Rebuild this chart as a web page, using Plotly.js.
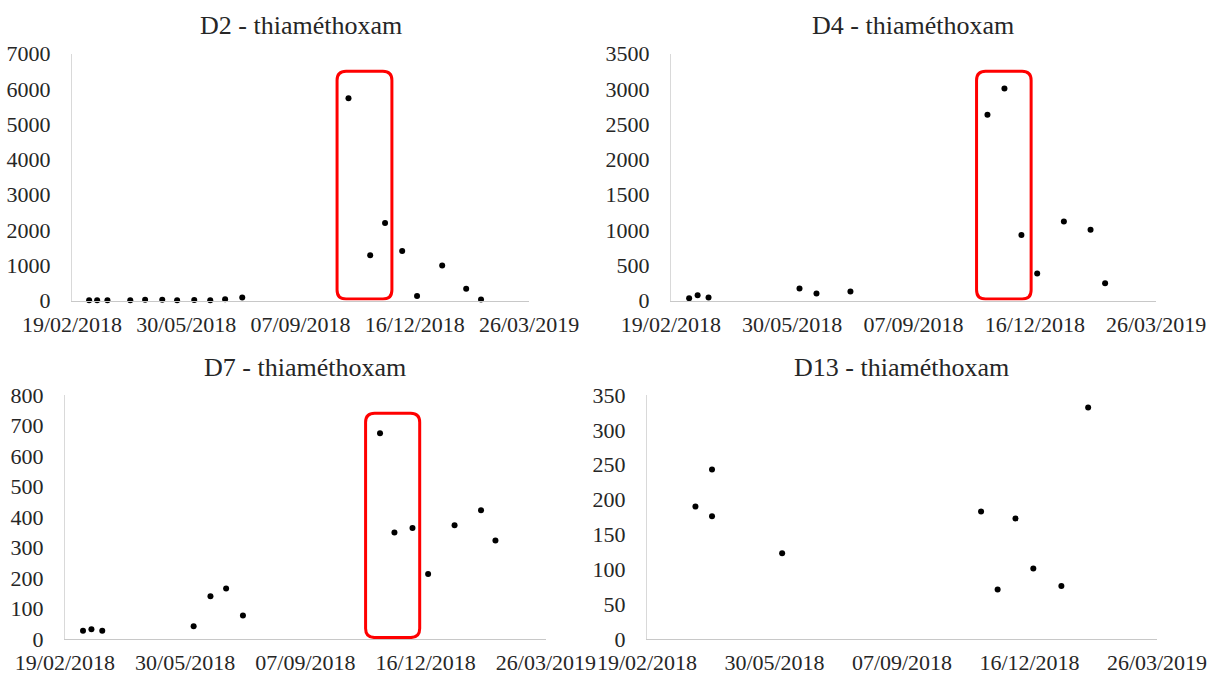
<!DOCTYPE html>
<html>
<head>
<meta charset="utf-8">
<script src="https://cdn.plot.ly/plotly-3.0.1.min.js"></script>
<style>
  html, body { margin: 0; padding: 0; background: #fff; }
  #chart { width: 1210px; height: 675px; }
</style>
</head>
<body>
<div id="chart"></div>
<script>
// ---------- data ----------
const originDate = "2018-02-19";
const tickDays = [0, 100, 200, 300, 400];
const tickLabels = ["19/02/2018", "30/05/2018", "07/09/2018", "16/12/2018", "26/03/2019"];

const titles = ["D2 - thiaméthoxam", "D4 - thiaméthoxam", "D7 - thiaméthoxam", "D13 - thiaméthoxam"];

const d2Dates = ["2018-03-06","2018-03-13","2018-03-22","2018-04-11","2018-04-24","2018-05-09","2018-05-22","2018-06-06","2018-06-20","2018-07-03","2018-07-18","2018-10-19","2018-11-07","2018-11-20","2018-12-05","2018-12-18","2019-01-09","2019-01-30","2019-02-12"];
const d2Values = [10, 10, 10, 5, 20, 20, 8, 15, 5, 38, 85, 5730, 1280, 2195, 1400, 130, 995, 330, 28];

const d4Dates = ["2018-03-06","2018-03-13","2018-03-22","2018-06-05","2018-06-19","2018-07-17","2018-11-07","2018-11-21","2018-12-05","2018-12-18","2019-01-09","2019-01-31","2019-02-12"];
const d4Values = [33, 76, 43, 170, 99, 128, 2634, 3003, 927, 383, 1121, 1003, 246];

const d7Dates = ["2018-03-06","2018-03-13","2018-03-22","2018-06-06","2018-06-20","2018-07-03","2018-07-17","2018-11-08","2018-11-20","2018-12-05","2018-12-18","2019-01-09","2019-01-31","2019-02-12"];
const d7Values = [27, 32, 27, 42, 140, 166, 77, 675, 349, 364, 213, 373, 422, 323];

const d13Dates = ["2018-03-29","2018-04-11","2018-04-11","2018-06-05","2018-11-08","2018-11-21","2018-12-05","2018-12-19","2019-01-10","2019-01-31"];
const d13Values = [190, 243, 176, 123, 183, 71, 173, 101, 76, 332];

const yMax = [7000, 3500, 800, 350];
const yStep = [1000, 500, 100, 50];

// highlighted windows (red boxes): [start date, end date, top value] per panel
const boxD2 = ["2018-10-09", "2018-11-26", 6500];
const boxD4 = ["2018-10-29", "2018-12-13", 3250];
const boxD7 = ["2018-10-27", "2018-12-11", 740];

// ---------- helpers ----------
function toDays(s) {
  const p = s.split("-").map(Number);
  const o = originDate.split("-").map(Number);
  return (Date.UTC(p[0], p[1] - 1, p[2]) - Date.UTC(o[0], o[1] - 1, o[2])) / 86400000;
}

const font = "Liberation Serif, Times New Roman, serif";
const tickFont = { family: font, size: 22, color: "#262626" };

const series = [
  [d2Dates, d2Values], [d4Dates, d4Values], [d7Dates, d7Values], [d13Dates, d13Values]
];

// subplot frames (paper fractions)
const xDomains = [[0.0595, 0.4372], [0.5545, 0.9554], [0.0537, 0.4512], [0.5347, 0.9562]];
const yDomains = [[0.5548, 0.9207], [0.5548, 0.9207], [0.0533, 0.4148], [0.0533, 0.4148]];
const titleY = [0.962, 0.962, 0.455, 0.455];

const data = [];
const layout = {
  width: 1210, height: 675,
  margin: { l: 0, r: 0, t: 0, b: 0 },
  paper_bgcolor: "#ffffff",
  plot_bgcolor: "#ffffff",
  showlegend: false,
  annotations: [],
  shapes: []
};

series.forEach(([dates, vals], i) => {
  const k = i === 0 ? "" : String(i + 1);
  data.push({
    type: "scatter", mode: "markers",
    x: dates.map(toDays), y: vals,
    xaxis: "x" + k, yaxis: "y" + k,
    marker: { color: "#000000", size: 6 },
    cliponaxis: false,
    hoverinfo: "skip"
  });
  layout["xaxis" + k] = {
    domain: xDomains[i], anchor: "y" + k,
    range: [0, 400], tickmode: "array", tickvals: tickDays, ticktext: tickLabels,
    showgrid: false, zeroline: false, showline: true, linecolor: "#c8c8c8", linewidth: 1,
    ticks: "", tickfont: tickFont, ticklabelstandoff: 4, fixedrange: true
  };
  layout["yaxis" + k] = {
    domain: yDomains[i], anchor: "x" + k,
    range: [0, yMax[i]], tick0: 0, dtick: yStep[i],
    showgrid: false, zeroline: false, showline: true, linecolor: "#d9d9d9", linewidth: 1,
    ticks: "", tickfont: tickFont, ticklabelstandoff: 16, fixedrange: true
  };
  layout.annotations.push({
    xref: "paper", yref: "paper",
    x: (xDomains[i][0] + xDomains[i][1]) / 2, y: titleY[i],
    xanchor: "center", yanchor: "middle", showarrow: false,
    text: titles[i], font: { family: font, size: 26, color: "#262626" }
  });
});

function roundedBox(k, box, plotPxW, plotPxH, ymaxV, r) {
  const x0 = toDays(box[0]), x1 = toDays(box[1]);
  const rx = r * 400 / plotPxW, ry = r * ymaxV / plotPxH;
  const y0 = 1.5 * ymaxV / plotPxH, y1 = box[2];
  const path = `M${x0 + rx},${y0} L${x1 - rx},${y0} Q${x1},${y0} ${x1},${y0 + ry} ` +
               `L${x1},${y1 - ry} Q${x1},${y1} ${x1 - rx},${y1} L${x0 + rx},${y1} ` +
               `Q${x0},${y1} ${x0},${y1 - ry} L${x0},${y0 + ry} Q${x0},${y0} ${x0 + rx},${y0} Z`;
  return {
    type: "path", xref: "x" + k, yref: "y" + k, path: path,
    line: { color: "#ff0000", width: 3 }, fillcolor: "rgba(0,0,0,0)", layer: "above"
  };
}
layout.shapes.push(roundedBox("", boxD2, 457, 247, 7000, 9));
layout.shapes.push(roundedBox("2", boxD4, 485, 247, 3500, 9));
layout.shapes.push(roundedBox("3", boxD7, 481, 244, 800, 9));

Plotly.newPlot("chart", data, layout, { staticPlot: true, displayModeBar: false });
</script>
</body>
</html>
